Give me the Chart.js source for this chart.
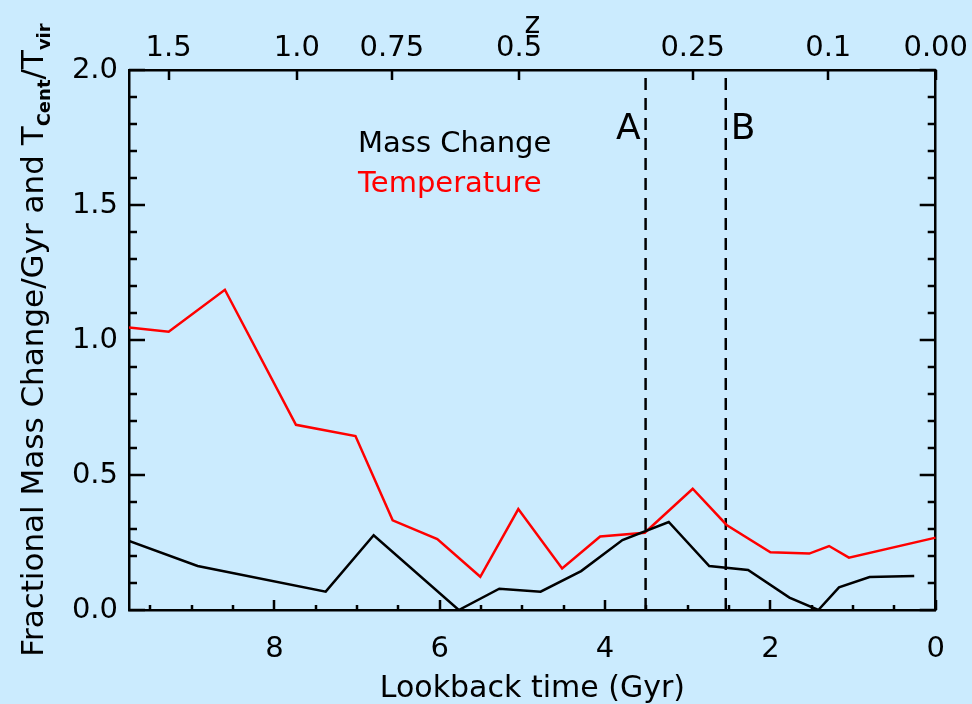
<!DOCTYPE html>
<html>
<head>
<meta charset="utf-8">
<script src="https://cdn.jsdelivr.net/npm/chart.js@4.4.1/dist/chart.umd.min.js"></script>
<style>
  html, body { margin: 0; padding: 0; background: #cbebfe; }
  canvas { display: block; }
</style>
</head>
<body>
<canvas id="chart" width="972" height="704"></canvas>
<script>
// Fractional mass change per Gyr (black) against lookback time
const massTime   = [9.76, 8.93, 7.38, 6.80, 5.77, 5.28, 4.78, 4.29, 3.79, 3.23, 2.74, 2.27, 1.77, 1.42, 1.17, 0.80, 0.26];
const massChange = [0.256, 0.163, 0.068, 0.277, 0.0, 0.079, 0.068, 0.144, 0.259, 0.326, 0.163, 0.148, 0.046, 0.0, 0.084, 0.122, 0.126];

// Central temperature over virial temperature (red)
const tempTime    = [9.76, 9.28, 8.60, 7.74, 7.02, 6.57, 6.03, 5.51, 5.05, 4.52, 4.06, 3.52, 2.94, 2.53, 2.00, 1.53, 1.29, 1.05, 0.0];
const temperature = [1.046, 1.031, 1.186, 0.686, 0.644, 0.332, 0.263, 0.123, 0.374, 0.154, 0.272, 0.286, 0.449, 0.315, 0.214, 0.209, 0.237, 0.194, 0.268];

// Epochs A and B (dashed verticals)
const markerTime  = [3.51, 2.54];
const markerLabel = ['A', 'B'];

// Axis ticks
const lookbackTicks = [0, 2, 4, 6, 8];
const yTicks        = [0, 0.5, 1.0, 1.5, 2.0];
const zLabels       = ['1.5', '1.0', '0.75', '0.5', '0.25', '0.1', '0.00'];
const zTime         = [9.28, 7.73, 6.58, 5.04, 2.94, 1.30, 0.0];

const T_MAX = 9.76;
const FONT = 'DejaVu Sans';

const pairs = (xs, ys) => xs.map((x, i) => ({ x, y: ys[i] }));

const datasets = [
  { label: 'Mass Change', data: pairs(massTime, massChange), borderColor: '#000000', borderWidth: 2.5, pointRadius: 0, tension: 0 },
  { label: 'Temperature', data: pairs(tempTime, temperature), borderColor: '#ff0000', borderWidth: 2.5, pointRadius: 0, tension: 0 }
];
markerTime.forEach((t, i) => {
  datasets.push({
    label: markerLabel[i],
    data: [{ x: t, y: 0 }, { x: t, y: 2 }],
    borderColor: '#000000', borderWidth: 2.5, borderDash: [12, 8], pointRadius: 0
  });
});

// Inward tick marks on all four sides, as in the classic framed plot
const innerTicks = {
  id: 'innerTicks',
  afterDraw(chart) {
    const { ctx, chartArea: a, scales } = chart;
    const xs = scales.x, ys = scales.y;
    ctx.save();
    ctx.strokeStyle = '#000';
    ctx.lineWidth = 2.5;
    ctx.beginPath();
    for (let k = 0; k <= 19; k++) {
      const v = k * 0.5;
      const px = Math.round(xs.getPixelForValue(v));
      const len = (k % 4 === 0) ? 10 : 5;
      ctx.moveTo(px, a.bottom); ctx.lineTo(px, a.bottom - len);
    }
    zTime.forEach(t => {
      const px = Math.round(xs.getPixelForValue(t));
      ctx.moveTo(px, a.top); ctx.lineTo(px, a.top + 10);
    });
    for (let k = 0; k <= 20; k++) {
      const py = Math.round(ys.getPixelForValue(k / 10));
      const len = (k % 5 === 0) ? 16 : 8;
      ctx.moveTo(a.left, py); ctx.lineTo(a.left + len, py);
      ctx.moveTo(a.right, py); ctx.lineTo(a.right - len, py);
    }
    ctx.stroke();
    ctx.restore();
  }
};

// Text annotations: rotated y title with subscripts, series key, epoch letters
const annotations = {
  id: 'annotations',
  afterDraw(chart) {
    const { ctx, chartArea: a, scales } = chart;
    ctx.save();
    ctx.fillStyle = '#000';
    ctx.textBaseline = 'alphabetic';

    // y-axis title
    const mainFont = `31px "${FONT}"`, subFont = `bold 18px "${FONT}"`;
    const parts = [
      { t: 'Fractional Mass Change/Gyr and T', f: mainFont, d: 0 },
      { t: 'Cent', f: subFont, d: 7 },
      { t: '/T', f: mainFont, d: 0 },
      { t: 'vir', f: subFont, d: 7 }
    ];
    let total = 0;
    parts.forEach(p => { ctx.font = p.f; p.w = ctx.measureText(p.t).width; total += p.w; });
    ctx.translate(43, (a.top + a.bottom) / 2);
    ctx.rotate(-Math.PI / 2);
    let cx = -total / 2;
    parts.forEach(p => { ctx.font = p.f; ctx.fillText(p.t, cx, p.d); cx += p.w; });
    ctx.setTransform(1, 0, 0, 1, 0, 0);

    // series key
    ctx.font = `29px "${FONT}"`;
    ctx.textAlign = 'left';
    ctx.fillStyle = '#000000';
    ctx.fillText('Mass Change', 358, 152);
    ctx.fillStyle = '#ff0000';
    ctx.fillText('Temperature', 358, 192);

    // epoch letters beside the dashed lines
    ctx.fillStyle = '#000';
    ctx.font = `36px "${FONT}"`;
    const xa = scales.x.getPixelForValue(markerTime[0]);
    const xb = scales.x.getPixelForValue(markerTime[1]);
    ctx.textAlign = 'right';
    ctx.fillText(markerLabel[0], xa - 5, 139);
    ctx.textAlign = 'left';
    ctx.fillText(markerLabel[1], xb + 5, 139);
    ctx.restore();
  }
};

const tickFont = { family: FONT, size: 29 };
const titleFont = { family: FONT, size: 30 };

new Chart(document.getElementById('chart'), {
  type: 'line',
  data: { datasets },
  plugins: [innerTicks, annotations],
  options: {
    responsive: false,
    animation: false,
    parsing: false,
    layout: { padding: { left: 0, right: 30, top: 0, bottom: 0 }, autoPadding: false },
    plugins: { legend: { display: false }, tooltip: { enabled: false } },
    scales: {
      x: {
        type: 'linear', position: 'bottom', min: 0, max: T_MAX, reverse: true,
        grid: { display: false, drawTicks: false, tickLength: 0 },
        border: { display: true, color: '#000', width: 2.5 },
        afterBuildTicks: s => { s.ticks = lookbackTicks.map(v => ({ value: v })); },
        ticks: { color: '#000', font: tickFont, padding: 22, maxRotation: 0, autoSkip: false, callback: v => String(v) },
        title: { display: true, text: 'Lookback time (Gyr)', color: '#000', font: titleFont, padding: { top: 0, bottom: -3 } },
        afterFit: s => { s.height = 94; }
      },
      xTop: {
        type: 'linear', position: 'top', min: 0, max: T_MAX, reverse: true,
        grid: { display: false, drawTicks: false, tickLength: 0 },
        border: { display: true, color: '#000', width: 2.5 },
        afterBuildTicks: s => { s.ticks = zTime.map(v => ({ value: v })); },
        ticks: { color: '#000', font: tickFont, padding: 4, maxRotation: 0, autoSkip: false,
                 callback: v => { const i = zTime.indexOf(v); return i >= 0 ? zLabels[i] : ''; } },
        title: { display: true, text: 'z', color: '#000', font: titleFont, padding: { top: 7, bottom: 0 } },
        afterFit: s => { s.height = 70; }
      },
      y: {
        type: 'linear', position: 'left', min: 0, max: 2,
        grid: { display: false, drawTicks: false, tickLength: 0 },
        border: { display: true, color: '#000', width: 2.5 },
        afterBuildTicks: s => { s.ticks = yTicks.map(v => ({ value: v })); },
        ticks: { color: '#000', font: tickFont, padding: 11, callback: v => v.toFixed(1) },
        afterFit: s => { s.width = 129; }
      },
      yRight: {
        type: 'linear', position: 'right', min: 0, max: 2,
        grid: { display: false, drawTicks: false, tickLength: 0 },
        border: { display: true, color: '#000', width: 2.5 },
        ticks: { display: false },
        afterFit: s => { s.width = 0; }
      }
    }
  }
});
</script>
</body>
</html>
